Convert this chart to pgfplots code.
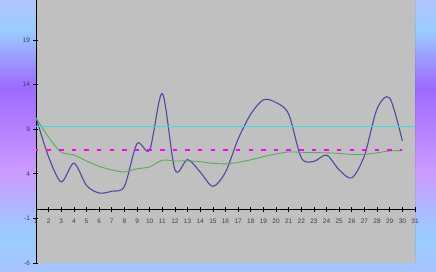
\documentclass[border=0pt]{standalone}
\usepackage{pgfplots}
\pgfplotsset{compat=1.18}
\usepackage{fontspec}
\setmainfont{Liberation Sans}
\definecolor{bgTop}{HTML}{B3C6FC}
\definecolor{bgLB}{HTML}{99CCFF}
\definecolor{bgViolet}{HTML}{9E6AFF}
\definecolor{bgPink}{HTML}{CC99FF}
\definecolor{bgBot}{HTML}{A8C4FF}
\definecolor{plotgray}{HTML}{C0C0C0}
\definecolor{lineblue}{HTML}{4B4BA0}
\definecolor{linegreen}{HTML}{5AAA5A}
\definecolor{linecyan}{HTML}{3ADCDC}
\definecolor{linemag}{HTML}{FF00FF}
\pgfdeclareverticalshading{bgshade}{100bp}{color(0bp)=(bgBot); color(25bp)=(bgBot); color(31.8bp)=(bgLB); color(43.75bp)=(bgPink); color(58.8bp)=(bgViolet); color(69.5bp)=(bgLB); color(75bp)=(bgTop); color(100bp)=(bgTop)}
\begin{document}
\begin{tikzpicture}[x=1pt,y=1pt]
\path[use as bounding box] (0,0) rectangle (436,272);
\shade[shading=bgshade] (0,0) rectangle (436,272);
\begin{axis}[
  at={(36pt,9pt)}, anchor=south west,
  scale only axis, width=379pt, height=263pt,
  xmin=1, xmax=31, ymin=-6, ymax=23.5,
  axis x line=middle, axis y line=left,
  axis line style={-, black, line width=0.7pt},
  xtick={1,...,31}, ytick={-6,-1,4,9,14,19},
  hide obscured x ticks=false,
  tick align=center, major tick length=5pt,
  tick style={black, line width=0.7pt},
  ticklabel style={font=\fontsize{6.5}{7}\selectfont, text=black!75},
  xticklabel style={yshift=-3pt},
  /pgf/number format/assume math mode=true,
  axis background/.style={fill=plotgray},
  clip=true,
]
\draw[color=gray!70!black, line width=0.6pt] (rel axis cs:0,0) -- (rel axis cs:1,0) -- (rel axis cs:1,1);
\addplot[color=lineblue, line width=1.1pt, smooth, mark=none] coordinates {
(1,10.3) (2,5.9) (3,3.1) (4,5.2) (5,2.7) (6,1.85) (7,2.05) (8,2.6) (9,7.4) (10,6.7)
(11,13.0) (12,4.45) (13,5.6) (14,4.2) (15,2.6) (16,4.2) (17,7.9) (18,10.7) (19,12.3) (20,12.0)
(21,10.7) (22,5.8) (23,5.4) (24,6.1) (25,4.45) (26,3.55) (27,6.05) (28,11.3) (29,12.5) (30,7.7)
};
\addplot[color=linegreen, line width=0.9pt, smooth, mark=none] coordinates {
(1,10.3) (2,8.1) (3,6.43) (4,6.13) (5,5.44) (6,4.84) (7,4.44) (8,4.21) (9,4.57) (10,4.78)
(11,5.53) (12,5.44) (13,5.45) (14,5.36) (15,5.18) (16,5.12) (17,5.28) (18,5.58) (19,5.93) (20,6.24)
(21,6.45) (22,6.42) (23,6.38) (24,6.36) (25,6.29) (26,6.18) (27,6.18) (28,6.36) (29,6.57) (30,6.61)
};
\addplot[color=linecyan, line width=1.2pt, mark=none] coordinates {(1,9.3) (31,9.3)};
\addplot[color=linemag, line width=2pt, mark=none, dash pattern=on 4.5pt off 8.133pt, dash phase=2.25pt] coordinates {(1,6.68) (30,6.68)};
\end{axis}
\end{tikzpicture}
\end{document}
